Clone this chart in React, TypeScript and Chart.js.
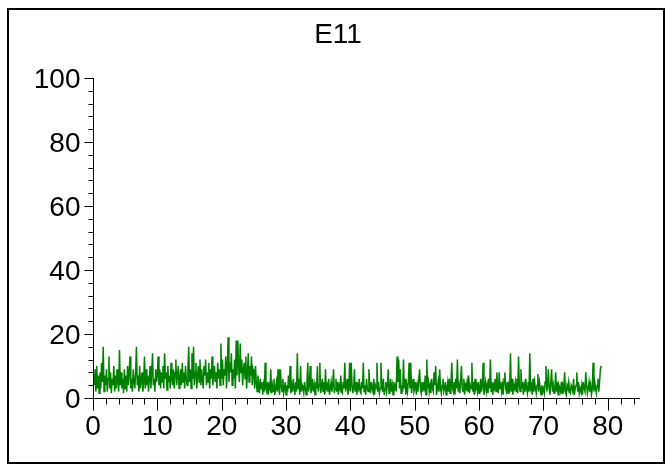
import { useEffect, useRef } from "react";
import { Chart, registerables } from "chart.js";

Chart.register(...registerables);

const TITLE = "E11";
const X_MIN = 0;
const X_MAX = 85;
const Y_MIN = 0;
const Y_MAX = 100;
const X_MAJOR_TICKS = [0, 10, 20, 30, 40, 50, 60, 70, 80];
const X_MINOR_STEP = 2;
const Y_MAJOR_TICKS = [0, 20, 40, 60, 80, 100];
const Y_MINOR_STEP = 4;

// series values, segment by segment (x range -> values)
const SEG_RANGES = [
  [0.2, 5], [5, 10], [10, 15], [15, 20], [20, 25], [25, 27], [27, 33], [33, 40],
  [40, 47], [47, 55], [55, 62], [62, 70], [70, 79.1],
];
const SEG_A = [4, 9, 2, 10, 3, 7, 1.5, 8, 3, 11, 5, 16, 2, 7, 4, 9, 2, 6, 13, 3, 8, 1.5, 6, 4, 10, 2, 7, 3, 9, 5, 2, 15, 4, 8, 3, 6, 1.5, 9];
const SEG_B = [3, 7, 2, 10, 4, 8, 13, 3, 6, 2, 9, 5, 3, 8, 16, 4, 7, 2, 10, 3, 6, 8, 2, 5, 13, 3, 9, 4, 7, 2, 6, 10, 3, 8, 14, 4, 6, 2, 9, 5];
const SEG_C = [7, 13, 4, 9, 3, 8, 5, 10, 3, 14, 6, 8, 2.5, 10, 5, 7, 3, 11, 6, 4, 9, 3, 8, 12, 4, 7, 10, 3, 6, 9, 4, 11, 5, 8, 3, 10, 6, 4, 9, 16];
const SEG_D = [5, 9, 3, 14, 6, 16, 4, 8, 11, 3, 7, 10, 5, 12, 4, 9, 6, 3, 10, 7, 12, 4, 8, 5, 11, 3, 9, 6, 13, 4, 7, 10, 5, 8, 3, 11, 6, 9, 4, 17];
const SEG_E = [6, 12, 4, 9, 7, 13, 3, 10, 19, 5, 11, 8, 14, 4, 9, 6, 12, 3, 18, 7, 18, 10, 5, 17, 8, 12, 4, 9, 11, 6, 13, 3, 8, 14, 5, 10, 7, 13, 4, 9];
const SEG_F = [8, 3, 10, 5, 2, 7, 4, 1.5, 6, 3, 5, 1, 4, 2, 11, 3];
const SEG_G = [2, 5, 1, 4, 3, 9, 1.5, 4, 2, 6, 1, 3, 5, 2, 9, 3, 1, 9, 4, 2, 6, 1.5, 3, 5, 1, 4, 2, 7, 3, 10, 1.5, 4, 2, 6, 3, 1, 5, 2, 14, 3, 6, 1, 10, 2, 4, 3, 1.5, 5];
const SEG_H = [3, 1, 5, 11, 2, 4, 10, 1.5, 3, 6, 2, 4, 1, 5, 3, 10, 2, 4, 11, 1.5, 3, 6, 2, 5, 1, 9, 3, 4, 2, 6, 1, 3, 5, 2, 4, 9, 1.5, 3, 6, 2, 5, 1, 4, 3, 7, 2, 1.5, 5, 3, 11, 2, 4, 6, 1, 3, 11];
const SEG_I = [2, 11, 4, 1.5, 3, 9, 2, 5, 1, 4, 3, 6, 2, 1.5, 5, 3, 11, 2, 4, 1, 6, 3, 2, 9, 4, 1.5, 5, 3, 2, 6, 1, 4, 3, 11, 2, 5, 1.5, 3, 11, 4, 2, 6, 1, 3, 5, 2, 4, 9, 1.5, 3, 6, 2, 4, 1, 5, 3];
const SEG_J = [4, 2, 13, 5, 12, 3, 9, 1.5, 4, 2, 12, 3, 6, 1, 4, 2, 5, 11, 3, 11, 1.5, 4, 6, 2, 3, 5, 1, 4, 2, 6, 9, 3, 1.5, 5, 2, 4, 3, 7, 1, 12, 3, 5, 2, 4, 1.5, 6, 3, 2, 8, 4, 10, 1, 3, 5, 2, 9, 3, 1.5, 4, 6, 2, 3, 5, 1];
const SEG_K = [3, 5, 2, 6, 1.5, 4, 11, 3, 2, 5, 1, 6, 3, 12, 2, 4, 1.5, 5, 10, 3, 2, 6, 1, 4, 3, 5, 2, 7, 1.5, 4, 3, 11, 2, 5, 1, 6, 3, 4, 2, 5, 1.5, 3, 6, 2, 4, 11, 1, 3, 5, 2, 4, 1.5, 6, 3, 12, 2];
const SEG_L = [5, 1, 4, 3, 6, 2, 8, 4, 1.5, 8, 3, 5, 2, 4, 1, 6, 8, 3, 2, 5, 1.5, 4, 3, 14, 2, 6, 1, 4, 3, 5, 2, 6, 1.5, 13, 4, 2, 9, 3, 5, 1, 4, 2, 6, 3, 1.5, 5, 2, 14, 3, 4, 1, 6, 2, 5, 3, 1.5, 4, 7.5, 2, 5, 3, 1, 4, 2];
const SEG_M = [3, 1.5, 5, 10, 2, 4, 9, 3, 1, 5, 9, 2, 4, 1.5, 3, 8, 2, 5, 1, 4, 3, 2, 5, 1.5, 4, 3, 8, 2, 1, 4, 3, 5, 2, 1.5, 4, 3, 2, 6, 1, 3, 4, 8, 2, 5, 1.5, 3, 2, 4, 1, 5, 3, 2, 8, 4, 1.5, 3, 5, 2, 4, 1, 3, 11, 2, 5, 3, 1.5, 4, 6, 2, 5, 9, 10];
const SEGMENTS = [SEG_A, SEG_B, SEG_C, SEG_D, SEG_E, SEG_F, SEG_G, SEG_H, SEG_I, SEG_J, SEG_K, SEG_L, SEG_M];

const FONT = '28px "Liberation Sans", Arial, sans-serif';

function buildPoints() {
  const pts: { x: number; y: number }[] = [];
  SEGMENTS.forEach((seg, si) => {
    const [a, b] = SEG_RANGES[si];
    const n = seg.length;
    const step = (b - a) / n;
    seg.forEach((v, i) => pts.push({ x: a + i * step, y: v }));
  });
  return pts;
}

const axesPlugin = {
  id: "customAxes",
  afterDatasetsDraw(chart: any) {
    const { ctx, scales } = chart;
    const xs = scales.x;
    const ys = scales.y;
    ctx.save();
    ctx.strokeStyle = "#000";
    ctx.lineWidth = 2;
    ctx.strokeRect(8, 9, 656, 454);

    ctx.lineWidth = 1;
    const x0 = Math.round(xs.getPixelForValue(X_MIN)) + 0.5;
    const y0 = Math.round(ys.getPixelForValue(Y_MIN)) + 0.5;
    const xEnd = xs.getPixelForValue(X_MAX);
    const yTop = ys.getPixelForValue(Y_MAX);

    ctx.beginPath();
    ctx.moveTo(x0, yTop);
    ctx.lineTo(x0, y0);
    ctx.moveTo(x0, y0);
    ctx.lineTo(xEnd, y0);
    for (let v = X_MIN; v <= X_MAX + 1e-9; v += X_MINOR_STEP) {
      const px = Math.round(xs.getPixelForValue(v)) + 0.5;
      ctx.moveTo(px, y0);
      ctx.lineTo(px, y0 + 6);
    }
    for (const v of X_MAJOR_TICKS) {
      const px = Math.round(xs.getPixelForValue(v)) + 0.5;
      ctx.moveTo(px, y0);
      ctx.lineTo(px, y0 + 12);
    }
    for (let v = Y_MIN; v <= Y_MAX + 1e-9; v += Y_MINOR_STEP) {
      const py = Math.round(ys.getPixelForValue(v)) + 0.5;
      ctx.moveTo(x0, py);
      ctx.lineTo(x0 - 5, py);
    }
    for (const v of Y_MAJOR_TICKS) {
      const py = Math.round(ys.getPixelForValue(v)) + 0.5;
      ctx.moveTo(x0, py);
      ctx.lineTo(x0 - 9, py);
    }
    ctx.stroke();

    ctx.fillStyle = "#000";
    ctx.font = FONT;
    ctx.textBaseline = "alphabetic";
    ctx.textAlign = "center";
    for (const v of X_MAJOR_TICKS) {
      ctx.fillText(String(v), xs.getPixelForValue(v), y0 + 36);
    }
    ctx.textAlign = "right";
    for (const v of Y_MAJOR_TICKS) {
      ctx.fillText(String(v), x0 - 13, ys.getPixelForValue(v) + 10);
    }
    ctx.textAlign = "center";
    ctx.fillText(TITLE, 338, 43);
    ctx.restore();
  },
};

export default function App() {
  const canvasRef = useRef<HTMLCanvasElement | null>(null);

  useEffect(() => {
    const canvas = canvasRef.current;
    if (!canvas) return;
    const chart = new Chart(canvas, {
      type: "line",
      data: {
        datasets: [
          {
            data: buildPoints(),
            borderColor: "#008000",
            backgroundColor: "#008000",
            borderWidth: 1.5,
            pointRadius: 0,
            tension: 0,
            fill: false,
          },
        ],
      },
      options: {
        responsive: false,
        animation: false,
        events: [],
        layout: { padding: { left: 93, right: 28, top: 78, bottom: 67 } },
        scales: {
          x: { type: "linear", min: X_MIN, max: X_MAX, display: false },
          y: { type: "linear", min: Y_MIN, max: Y_MAX, display: false },
        },
        plugins: {
          legend: { display: false },
          title: { display: false },
          tooltip: { enabled: false },
        },
      },
      plugins: [axesPlugin],
    });
    return () => chart.destroy();
  }, []);

  return (
    <div style={{ position: "fixed", left: 0, top: 0, width: 668, height: 465, background: "#fff" }}>
      <canvas ref={canvasRef} width={668} height={465} style={{ display: "block" }} />
    </div>
  );
}
